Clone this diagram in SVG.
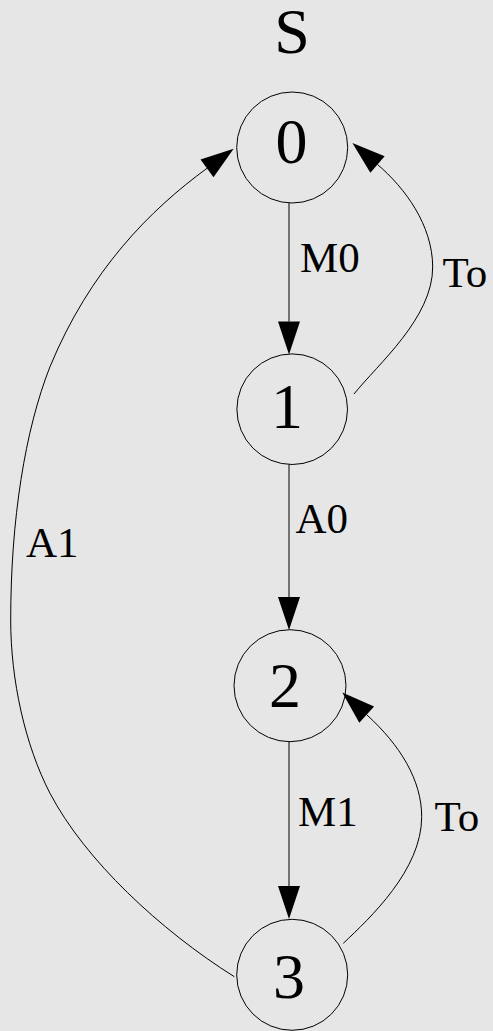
<svg xmlns="http://www.w3.org/2000/svg" width="493" height="1031" viewBox="0 0 493 1031">
<style>
.bg{fill:#e6e6e6}
.node circle{fill:none;stroke:#000;stroke-width:1}
text{font-family:'Liberation Serif','Times New Roman',serif;fill:#000}
.node text{font-size:64px;text-anchor:middle}
.title{font-size:64px;text-anchor:middle}
.edge{fill:none;stroke:#000;stroke-width:1}
.lbl{font-size:43px}
</style>
<defs>
<marker id="ah" markerUnits="userSpaceOnUse" markerWidth="40" markerHeight="30" refX="0" refY="11" orient="auto" overflow="visible">
<path d="M0,0 L33,11 L0,22 z" fill="#000"/>
</marker>
</defs>
<rect class="bg" x="0" y="0" width="493" height="1031"/>
<text class="title" x="292" y="53">S</text>
<g id="connectors">
<path class="edge" d="M289,203 L289,321.5" marker-end="url(#ah)"/>
<path class="edge" d="M289,464.5 L289,597" marker-end="url(#ah)"/>
<path class="edge" d="M289,742 L289,886" marker-end="url(#ah)"/>
<path class="edge" d="M354,394 C378,364 432.7,318 432.7,267 C432.5,225 405,188 377.5,164.5" marker-end="url(#ah)"/>
<path class="edge" d="M343.3,943.3 C370,918 421.7,870 421.7,816.7 C421.7,780 400,745 366.7,714.7" marker-end="url(#ah)"/>
<path class="edge" d="M234.3,976.7 C160,930 85,860 50,793.3 C25,745 10.7,680 10.7,620 C10.7,520 25,430 50,366.7 C90,270 150,210 207,168.3" marker-end="url(#ah)"/>
<text class="lbl" x="300" y="271.5">M0</text>
<text class="lbl" x="442.5" y="287">To</text>
<text class="lbl" x="295.5" y="533">A0</text>
<text class="lbl" x="298" y="825.5">M1</text>
<text class="lbl" x="434.5" y="830.5">To</text>
<text class="lbl" x="26" y="556.5">A1</text>
</g>
<g id="node0" class="node"><circle cx="292.2" cy="147.5" r="55.5"/><text x="291.5" y="163">0</text></g>
<g id="node1" class="node"><circle cx="292.2" cy="409.2" r="55.3"/><text x="287" y="427.5">1</text></g>
<g id="node2" class="node"><circle cx="290" cy="685.7" r="56"/><text x="285" y="706.5">2</text></g>
<g id="node3" class="node"><circle cx="292.2" cy="974.8" r="55.5"/><text x="289" y="998">3</text></g>
</svg>
